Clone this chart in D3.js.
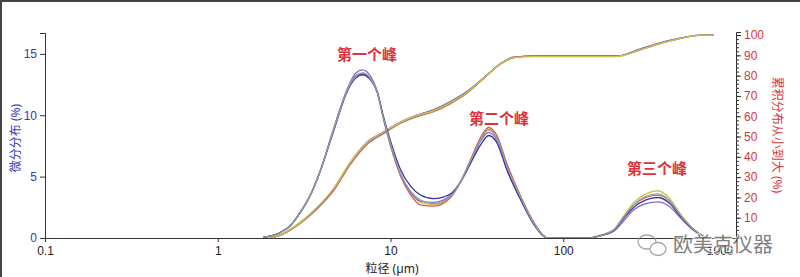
<!DOCTYPE html>
<html>
<head>
<meta charset="utf-8">
<script src="https://cdn.jsdelivr.net/npm/d3@7"></script>
<style>
  body { margin: 0; background: #fff; }
  svg { display: block; font-family: "Noto Sans", "Noto Sans CJK SC", sans-serif; }
</style>
</head>
<body>
<svg class="chart" width="800" height="277"></svg>
<script>
// particle sizes (um) where the differential curves were read
const densitySizes = [1.84, 2.3, 2.63, 3.01, 3.44, 3.93, 4.68, 5.64, 6.26, 6.88, 7.65, 8.41, 9.1, 10, 11.4, 13.1, 14.9, 17.8, 22.3, 25.5, 29.1, 33.3, 37, 41.1, 47.6, 56.7, 67.5, 81.3, 139, 165, 196, 224, 256, 301, 353, 408, 480, 548, 670];
const densityOlive = [0.05, 0.45, 1.0, 2.1, 3.5, 5.5, 8.8, 12.1, 13.2, 13.4, 13.0, 11.8, 9.8, 7.6, 5.2, 3.7, 2.9, 2.7, 3.4, 4.6, 6.3, 8.1, 8.8, 8.2, 5.8, 3.3, 1.2, 0, 0, 0.25, 0.7, 1.8, 2.9, 3.6, 3.85, 3.3, 1.9, 0.95, 0];
const densityRed = [0.05, 0.45, 1.0, 2.1, 3.5, 5.5, 8.8, 12.1, 13.2, 13.4, 13.0, 11.8, 9.7, 7.5, 5.1, 3.5, 2.7, 2.6, 3.3, 4.6, 6.4, 8.2, 9.0, 8.4, 5.9, 3.4, 1.3, 0, 0, 0.2, 0.65, 1.7, 2.7, 3.3, 3.5, 3.1, 1.8, 0.9, 0];
const densityPurple = [0.05, 0.45, 1.0, 2.1, 3.5, 5.5, 8.9, 12.2, 13.4, 13.7, 13.2, 11.9, 9.8, 7.7, 5.2, 3.7, 3.0, 2.9, 3.5, 4.6, 6.2, 7.9, 8.6, 8.0, 5.5, 3.2, 1.2, 0, 0, 0.2, 0.55, 1.4, 2.3, 2.8, 2.95, 2.6, 1.6, 0.8, 0];
const densityBlue = [0.05, 0.45, 1.0, 2.1, 3.5, 5.5, 8.7, 12.0, 13.0, 13.3, 12.9, 11.8, 9.9, 7.9, 5.6, 4.2, 3.5, 3.2, 3.6, 4.6, 6.1, 7.6, 8.35, 7.8, 5.4, 3.1, 1.1, 0, 0, 0.2, 0.6, 1.6, 2.5, 3.1, 3.3, 2.9, 1.7, 0.85, 0];
const densityGrey = [0.05, 0.45, 1.0, 2.1, 3.5, 5.5, 8.8, 12.1, 13.2, 13.45, 13.0, 11.8, 9.8, 7.7, 5.3, 3.8, 3.1, 2.8, 3.4, 4.6, 6.3, 8.0, 8.85, 8.2, 5.7, 3.3, 1.2, 0, 0, 0.2, 0.65, 1.7, 2.7, 3.4, 3.6, 3.1, 1.8, 0.9, 0];

// cumulative curves (small to large)
const cumulativeSizes = [2.0, 2.3, 3.0, 3.77, 4.68, 5.85, 7.35, 9.1, 11.4, 14.3, 17.8, 22.3, 27.8, 34.7, 43.5, 52, 67.5, 205, 280, 365, 480, 630, 745];
const cumulativeGrey = [0, 1.5, 7.6, 15, 24, 37, 47, 52, 57, 60.5, 63, 67, 72, 79, 86, 89, 89.6, 89.6, 93, 96, 98.5, 100, 100];
const cumulativeBlue = [0, 1.4, 7.4, 14.8, 23.7, 36.6, 46.6, 51.6, 56.8, 60.5, 63.3, 67.4, 72.3, 79, 85.8, 88.9, 89.7, 89.7, 93.2, 96.2, 98.6, 100, 100];
const cumulativePurple = [0, 1.5, 7.6, 15.1, 24.2, 37.3, 47.4, 52.3, 57.1, 60.5, 62.9, 66.8, 71.8, 78.8, 85.9, 89, 89.6, 89.6, 93.1, 96.1, 98.5, 100, 100];
const cumulativeRed = [0, 1.3, 7.2, 14.4, 23.2, 36.1, 46.3, 51.4, 56.4, 59.8, 62.2, 66.2, 71.4, 78.6, 86, 89.2, 89.6, 89.6, 92.7, 95.8, 98.4, 100, 100];
const cumulativeOlive = [0, 1.5, 7.7, 15.2, 24.3, 37.2, 47.2, 52.1, 57, 60.4, 62.8, 66.8, 71.8, 78.8, 85.8, 88.9, 89.4, 89.4, 92.8, 95.9, 98.4, 100, 100];

const xTicks = [0.1, 1, 10, 100, 1000];
const leftTicks = [0, 5, 10, 15];
const rightTicks = [10, 20, 30, 40, 50, 60, 70, 80, 90, 100];

// peak captions, placed in data units (size, left-axis level of the baseline)
const peakLabels = ['第一个峰', '第二个峰', '第三个峰'];
const peakSizes = [7.3, 42.5, 349];
const peakLevels = [14.5, 9.3, 5.2];

const densitySeries = [
  { values: densityOlive, color: '#c9c44c' },
  { values: densityRed, color: '#d45a55' },
  { values: densityPurple, color: '#8a6ad0' },
  { values: densityBlue, color: '#3434a8' },
  { values: densityGrey, color: '#8fa39c' }
];
const cumulativeSeries = [
  { values: cumulativeGrey, color: '#8fa39c' },
  { values: cumulativeBlue, color: '#6a6ab0' },
  { values: cumulativePurple, color: '#8a6ad0' },
  { values: cumulativeRed, color: '#c0705a' },
  { values: cumulativeOlive, color: '#c9c44c' }
];

const startApp = () => {
  const svg = d3.select('.chart');

  const x = d3.scaleLog().domain([0.1, 1000]).range([45, 736]);
  const yLeft = d3.scaleLinear().domain([0, 16.7]).range([238, 33]);
  const yRight = d3.scaleLinear().domain([0, 101.5]).range([238, 32]);

  // outer frame (top and left edges only)
  svg.append('path')
    .attr('d', 'M1,277V1H800')
    .attr('fill', 'none')
    .attr('stroke', '#444')
    .attr('stroke-width', 2);

  const density = d3.line()
    .x((d, i) => x(densitySizes[i]))
    .y(d => yLeft(d))
    .curve(d3.curveMonotoneX);

  const cumulative = d3.line()
    .x((d, i) => x(cumulativeSizes[i]))
    .y(d => yRight(d))
    .curve(d3.curveMonotoneX);

  svg.append('g')
    .selectAll('path')
    .data(cumulativeSeries)
    .enter()
    .append('path')
    .attr('d', d => cumulative(d.values))
    .attr('fill', 'none')
    .attr('stroke', d => d.color)
    .attr('stroke-width', 1.3);

  svg.append('g')
    .selectAll('path')
    .data(densitySeries)
    .enter()
    .append('path')
    .attr('d', d => density(d.values))
    .attr('fill', 'none')
    .attr('stroke', d => d.color)
    .attr('stroke-width', 1.3);

  // axes
  const xAxis = svg.append('g')
    .attr('transform', 'translate(0,238)')
    .call(d3.axisBottom(x).tickValues(xTicks).tickFormat(d3.format('~g')).tickSizeOuter(0).tickSize(4));
  xAxis.selectAll('text')
    .attr('font-size', 12)
    .attr('fill', '#222')
    .attr('dy', '0.85em');
  xAxis.selectAll('.tick')
    .filter(d => d === 1000)
    .select('text')
    .attr('text-anchor', 'end')
    .attr('dx', -3);

  const leftAxis = svg.append('g')
    .attr('transform', 'translate(45,0)')
    .call(d3.axisLeft(yLeft).tickValues(leftTicks).tickSizeOuter(0).tickSize(5).tickPadding(3));
  leftAxis.selectAll('text')
    .attr('font-size', 12)
    .attr('fill', '#3838a8');

  const rightAxis = svg.append('g')
    .attr('transform', 'translate(736,0)')
    .call(d3.axisRight(yRight).tickValues(rightTicks).tickSizeOuter(0).tickSize(5).tickPadding(3));
  rightAxis.selectAll('text')
    .attr('font-size', 12)
    .attr('fill', '#d8363c');

  svg.append('g')
    .attr('transform', 'translate(736,0)')
    .call(d3.axisRight(yRight).tickValues(d3.range(2, 101, 2)).tickSizeOuter(0).tickSize(3).tickFormat(''))
    .select('.domain').remove();

  svg.selectAll('.domain, .tick line')
    .attr('stroke', '#333');

  // axis titles
  svg.append('text')
    .attr('x', 392)
    .attr('y', 273)
    .attr('text-anchor', 'middle')
    .attr('font-size', 12)
    .attr('fill', '#222')
    .text('粒径 (µm)');

  svg.append('text')
    .attr('transform', 'translate(20,138) rotate(-90)')
    .attr('text-anchor', 'middle')
    .attr('font-size', 12)
    .attr('fill', '#3838b8')
    .text('微分分布 (%)');

  svg.append('text')
    .attr('transform', 'translate(773,135) rotate(90)')
    .attr('text-anchor', 'middle')
    .attr('font-size', 12)
    .attr('fill', '#d8363c')
    .text('累积分布从小到大 (%)');

  // peak annotations
  svg.append('g')
    .selectAll('text')
    .data(peakLabels)
    .enter()
    .append('text')
    .attr('x', (d, i) => x(peakSizes[i]))
    .attr('y', (d, i) => yLeft(peakLevels[i]))
    .attr('text-anchor', 'middle')
    .attr('font-size', 15)
    .attr('font-weight', 'bold')
    .attr('fill', '#e0303c')
    .text(d => d);

  // watermark
  const mark = svg.append('g').attr('opacity', 0.75);
  mark.append('ellipse')
    .attr('cx', 647).attr('cy', 242).attr('rx', 9).attr('ry', 7)
    .attr('fill', 'none').attr('stroke', '#888').attr('stroke-width', 1.3);
  mark.append('ellipse')
    .attr('cx', 658).attr('cy', 249).attr('rx', 8).attr('ry', 6.5)
    .attr('fill', '#fff').attr('stroke', '#888').attr('stroke-width', 1.3);
  mark.append('text')
    .attr('x', 673)
    .attr('y', 252)
    .attr('font-size', 20)
    .attr('fill', '#555')
    .attr('stroke', '#fff')
    .attr('stroke-width', 2)
    .attr('paint-order', 'stroke')
    .attr('font-family', '"Noto Sans CJK SC", sans-serif')
    .text('欧美克仪器');
};

window.onload = startApp;
</script>
</body>
</html>
